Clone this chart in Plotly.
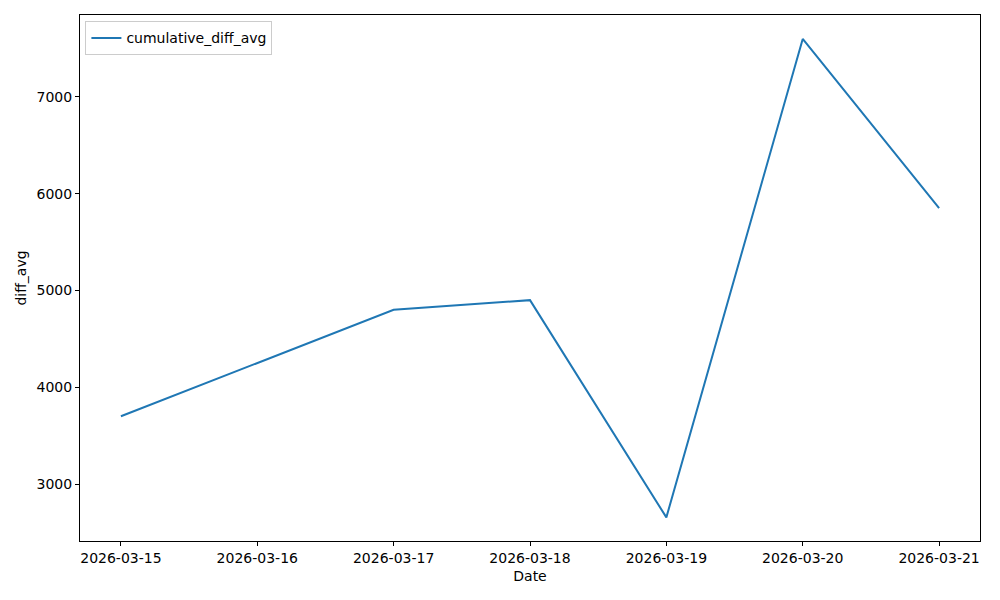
import plotly.graph_objects as go

dates = ["2026-03-15", "2026-03-17", "2026-03-18", "2026-03-19", "2026-03-20", "2026-03-21"]
values = [3700, 4800, 4900, 2655, 7600, 5850]
tick_dates = ["2026-03-15", "2026-03-16", "2026-03-17", "2026-03-18", "2026-03-19", "2026-03-20", "2026-03-21"]
y_ticks = [3000, 4000, 5000, 6000, 7000]

fig = go.Figure()
fig.add_trace(go.Scatter(x=dates, y=values, mode="lines", name="cumulative_diff_avg",
                         line=dict(color="#1f77b4", width=2)))

axis_common = dict(showgrid=False, zeroline=False, showline=True, linecolor="black", linewidth=1,
                   mirror=True, ticks="outside", ticklen=4, tickwidth=1, tickcolor="black",
                   automargin=False,
                   tickfont=dict(family="DejaVu Sans", size=14, color="black"))

fig.update_xaxes(type="date", range=["2026-03-14 16:48", "2026-03-21 07:12"],
                 tickvals=tick_dates, ticktext=tick_dates,
                 title=dict(text="Date", font=dict(family="DejaVu Sans", size=14, color="black"), standoff=6),
                 **axis_common)
fig.update_yaxes(range=[2411, 7847], tickvals=y_ticks,
                 title=dict(text="diff_avg", font=dict(family="DejaVu Sans", size=14, color="black"), standoff=6),
                 **axis_common)

fig.update_layout(width=992, height=592, paper_bgcolor="white", plot_bgcolor="white",
                  margin=dict(l=72, r=20, t=7, b=59),
                  font=dict(family="DejaVu Sans", size=14, color="black"),
                  showlegend=True,
                  legend=dict(x=0.006, y=0.988, xanchor="left", yanchor="top",
                              bgcolor="white", bordercolor="#cccccc", borderwidth=1,
                              font=dict(family="DejaVu Sans", size=14, color="black")))

fig.write_html("out.html")
